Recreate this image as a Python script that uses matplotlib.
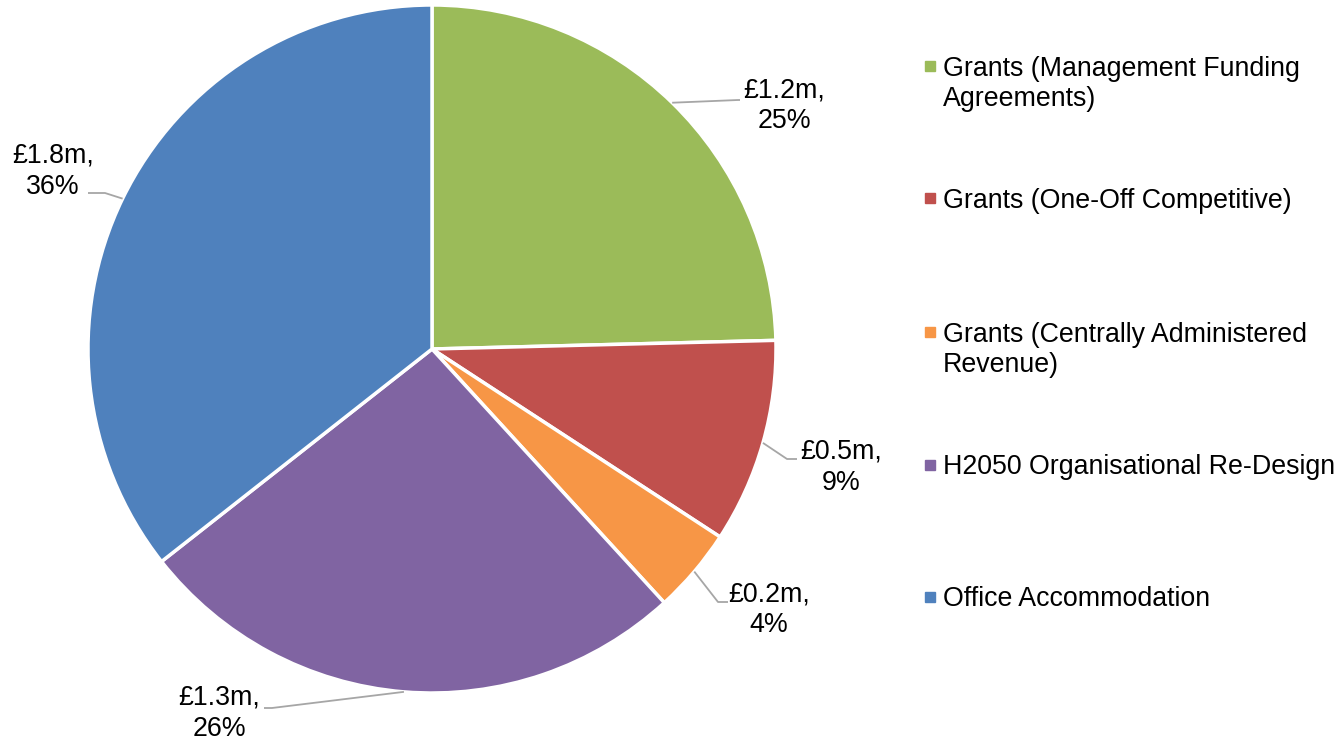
import numpy as np
import matplotlib.pyplot as plt

plt.rcParams['font.family'] = ['Liberation Sans', 'DejaVu Sans']

# ---- data ----
categories = [
    "Grants (Management Funding\nAgreements)",
    "Grants (One-Off Competitive)",
    "Grants (Centrally Administered\nRevenue)",
    "H2050 Organisational Re-Design",
    "Office Accommodation",
]
values_m = [1.23, 0.48, 0.20, 1.31, 1.78]
value_labels = ["£1.2m,", "£0.5m,", "£0.2m,", "£1.3m,", "£1.8m,"]
pct_labels = ["25%", "9%", "4%", "26%", "36%"]
colors = ["#9BBB59", "#C0504D", "#F79646", "#8064A2", "#4F81BD"]

# layout, in pixels (y measured from top)
W, H = 1340, 741
cx, cy, R = 432, 349, 344
# (elbow x, elbow y, line end x, text centre x, text centre y)
label_pos = [
    (738, 100, 740, 784, 106),
    (787, 459, 797, 841, 467),
    (718, 602, 728, 769, 610),
    (272, 708, 264, 219, 713),
    (105, 193, 88, 53, 171),
]
legend_y = [66, 198, 332, 465, 597]
legend_pitch = 30


def main():
    fig = plt.figure(figsize=(W / 100, H / 100), dpi=100)
    ax = fig.add_axes([0, 0, 1, 1])

    wedges, _ = ax.pie(
        values_m, colors=colors, startangle=90, counterclock=False,
        center=(cx, H - cy), radius=R,
        wedgeprops=dict(edgecolor="white", linewidth=2.5),
    )
    ax.set_xlim(0, W)
    ax.set_ylim(0, H)
    ax.set_aspect("equal")
    ax.axis("off")

    # data labels with leader lines
    for w, vl, pl, (ex, ey, lx, tx, ty) in zip(wedges, value_labels, pct_labels, label_pos):
        mid = np.deg2rad((w.theta1 + w.theta2) / 2)
        sx = cx + R * np.cos(mid)
        sy = (H - cy) + R * np.sin(mid)
        ax.plot([sx, ex, lx], [sy, H - ey, H - ey], color="#A6A6A6", lw=1.3,
                solid_capstyle="butt")
        ax.text(tx, H - ty, vl + "\n" + pl, ha="center", va="center",
                fontsize=19.3, color="#000000", linespacing=1.25)

    # legend: one line per row, baseline of last line placed explicitly
    for cat, col, ly in zip(categories, colors, legend_y):
        ax.plot([930], [H - ly], marker="s", ms=6.5, color=col, mec=col)
        lines = cat.split("\n")
        for i, line in enumerate(lines):
            ax.text(943, H - (ly + 9.5 + i * legend_pitch), line,
                    ha="left", va="baseline", fontsize=19.3, color="#000000")

    fig.savefig("out.png", dpi=100)


if __name__ == "__main__":
    main()
